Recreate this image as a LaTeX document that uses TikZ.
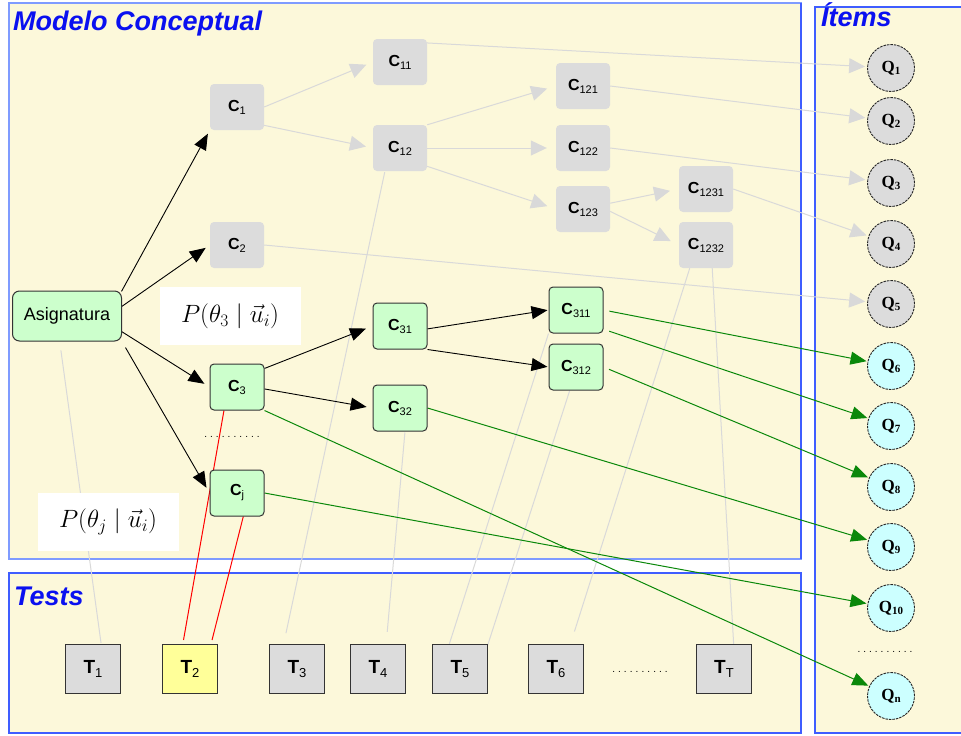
\documentclass[tikz,border=0pt]{standalone}
\usepackage{fix-cm}
\usepackage{fontspec}
\setmainfont{Liberation Sans}
\newfontfamily\qfont{Liberation Serif}
\usetikzlibrary{arrows.meta}

\definecolor{panelfill}{HTML}{FCF8DA}
\definecolor{panelblue}{HTML}{3F5DFF}
\definecolor{panellight}{HTML}{7F9BFF}
\definecolor{nodegray}{HTML}{DCDCDC}
\definecolor{nodegreen}{HTML}{CCFFCC}
\definecolor{qcyan}{HTML}{CCFFFF}
\definecolor{tyellow}{HTML}{FFFF99}
\definecolor{linkgray}{HTML}{D9D9D9}
\definecolor{linkgreen}{HTML}{0A880A}
\definecolor{titleblue}{HTML}{0A10F0}

% node labels: bold letter with a plain subscript
\newcommand{\clab}[1]{\textbf{C}\raisebox{-3pt}{\fontsize{11}{11}\selectfont #1}}
\newcommand{\tlab}[1]{\textbf{T}\raisebox{-4pt}{\fontsize{13}{13}\selectfont #1}}
\newcommand{\qlab}[1]{{\qfont\bfseries Q\raisebox{-2.5pt}{\fontsize{11}{11}\selectfont #1}}}
\newcommand{\dotrow}[1]{\hbox to #1{\xleaders\hbox to 5.4pt{\hss.\hss}\hfill}}

\pgfdeclarelayer{panels}
\pgfdeclarelayer{links}
\pgfsetlayers{panels,links,main}

\tikzset{
  cbase/.style={rectangle, minimum width=54pt, minimum height=46pt, inner sep=0pt,
                font=\fontsize{16}{16}\selectfont},
  cgray/.style={cbase, rounded corners=4pt, fill=nodegray},
  cgreen/.style={cbase, rounded corners=4pt, fill=nodegreen, draw=black!80, line width=1pt},
  tbox/.style={rectangle, minimum width=55pt, minimum height=49pt, inner sep=0pt,
               fill=nodegray, draw=black!80, line width=1.2pt, font=\fontsize{19}{19}\selectfont},
  qnode/.style={circle, minimum size=47pt, inner sep=0pt, fill=nodegray,
                draw=black!85, line width=0.9pt, dash pattern=on 2.5pt off 1pt,
                font=\fontsize{17}{17}\selectfont},
  qnew/.style={qnode, fill=qcyan},
  pbox/.style={rectangle, fill=white, minimum width=141pt, minimum height=58pt, inner sep=0pt,
               font=\fontsize{25}{30}\selectfont},
  title/.style={anchor=base west, inner sep=0pt, text=titleblue,
                font=\fontsize{27}{27}\selectfont\bfseries\itshape},
  dotsnode/.style={inner sep=0pt, font=\fontsize{10}{10}\selectfont},
  glink/.style={draw=linkgray, line width=1pt},
  garrow/.style={glink, -{Triangle[length=16pt,width=15pt]}},
  barrow/.style={draw=black, line width=0.9pt, -{Triangle[length=16pt,width=13pt]}},
  grarrow/.style={draw=linkgreen, line width=1pt, -{Triangle[length=16pt,width=13pt]}},
  rlink/.style={draw=red, line width=1pt},
}

\begin{document}
\begin{tikzpicture}[x=1pt,y=-1pt]
\useasboundingbox (0,0) rectangle (961,736);

% ---------- concept nodes ----------
\node[cgreen, minimum width=109pt, minimum height=50pt, rounded corners=7pt,
      font=\fontsize{18}{18}\selectfont] (asig) at (67,316) {Asignatura};

\node[cgray] (c1)    at (237,107) {\clab{1}};
\node[cgray] (c11)   at (400,62)  {\clab{11}};
\node[cgray] (c12)   at (400,148) {\clab{12}};
\node[cgray] (c2)    at (237,245) {\clab{2}};
\node[cgray] (c121)  at (583,86)  {\clab{121}};
\node[cgray] (c122)  at (583,148) {\clab{122}};
\node[cgray] (c123)  at (583,209) {\clab{123}};
\node[cgray] (c1231) at (706,189) {\clab{1231}};
\node[cgray] (c1232) at (706,245) {\clab{1232}};

\node[cgreen] (c3)   at (237,387) {\clab{3}};
\node[cgreen] (cj)   at (237,493) {\clab{j}};
\node[cgreen] (c31)  at (400,326) {\clab{31}};
\node[cgreen] (c32)  at (400,408) {\clab{32}};
\node[cgreen] (c311) at (576,310) {\clab{311}};
\node[cgreen] (c312) at (576,367) {\clab{312}};

\node[pbox] (p3) at (230,316) {$P(\theta_3\;|\;\vec{u}_i)$};
\node[pbox] (pj) at (108,522) {$P(\theta_j\;|\;\vec{u}_i)$};

\node[dotsnode] (dc) at (232,437) {\dotrow{59pt}};

% ---------- items ----------
\node[qnode] (q1)  at (891,68)  {\qlab{1}};
\node[qnode] (q2)  at (891,121) {\qlab{2}};
\node[qnode] (q3)  at (891,183) {\qlab{3}};
\node[qnode] (q4)  at (891,244) {\qlab{4}};
\node[qnode] (q5)  at (891,304) {\qlab{5}};
\node[qnew]  (q6)  at (891,366) {\qlab{6}};
\node[qnew]  (q7)  at (891,426) {\qlab{7}};
\node[qnew]  (q8)  at (891,487) {\qlab{8}};
\node[qnew]  (q9)  at (891,547) {\qlab{9}};
\node[qnew]  (q10) at (891,608) {\qlab{10}};
\node[qnew]  (qn)  at (891,696) {\qlab{n}};
\node[dotsnode] (dq) at (885,652) {\dotrow{58pt}};

% ---------- tests ----------
\node[tbox] (t1) at (93,669)  {\tlab{1}};
\node[tbox, fill=tyellow] (t2) at (190,669) {\tlab{2}};
\node[tbox] (t3) at (297,669) {\tlab{3}};
\node[tbox] (t4) at (378,669) {\tlab{4}};
\node[tbox] (t5) at (460,669) {\tlab{5}};
\node[tbox] (t6) at (556,669) {\tlab{6}};
\node[tbox] (tT) at (724,669) {\tlab{T}};
\node[dotsnode] (dt) at (640,672) {\dotrow{59pt}};

% ---------- panels ----------
\begin{pgfonlayer}{panels}
  \fill[white] (0,0) rectangle (961,736);
  \filldraw[fill=panelfill, draw=panellight, line width=1.5pt] (9,3) rectangle (801,559);
  \filldraw[fill=panelfill, draw=panelblue, line width=1.2pt] (9,573) rectangle (801,733);
  \filldraw[fill=panelfill, draw=panelblue, line width=1.2pt] (815,7) rectangle (970,733);
  \draw[panelblue, line width=1.2pt] (801,3) -- (801,559);
\end{pgfonlayer}
\node[title] (tmodel) at (13,30) {Modelo Conceptual};
\node[title] (titems) at (821,26) {Ítems};
\node[title] (ttests) at (14,605) {Tests};

% ---------- links ----------
\begin{pgfonlayer}{links}
  % tests to concepts
  \draw[glink, shorten <=9pt, shorten >=1pt] (asig.-106) -- (t1.72);
  \draw[glink, shorten <=1pt, shorten >=11pt] (c12.-123) -- (t3.118);
  \draw[glink, shorten <=1pt, shorten >=12pt] (c32.-78) -- (t4.72);
  \draw[glink] (c311.south west) -- (t5.113);
  \draw[glink, shorten >=-4pt] (c312.-105) -- (t5.north east);
  \draw[glink, shorten >=13pt] (c1232.-125) -- (t6.60);
  \draw[glink] (c1232.-75) -- (tT.69);
  \draw[rlink, shorten >=4pt] (c3.-119) -- (t2.106);
  \draw[rlink, shorten >=4pt] (cj.-75) -- (t2.50);

  % grey hierarchy
  \draw[garrow, shorten >=7pt] (c1.east) -- (c11.west);
  \draw[garrow, shorten >=7pt] (c1.-34) -- (c12.west);
  \draw[garrow, shorten >=9pt] (c12.north east) -- (c121.west);
  \draw[garrow, shorten >=9pt] (c12.east) -- (c122.west);
  \draw[garrow, shorten >=9pt] (c12.-34) -- (c123.west);
  \draw[garrow, shorten >=9pt] (c123.12) -- (c1231.west);
  \draw[garrow, shorten >=9pt] (c123.-5) -- (c1232.west);
  \draw[garrow, shorten >=2pt] (c11.35) -- (q1);
  \draw[garrow, shorten >=2pt] (c121.east) -- (q2);
  \draw[garrow, shorten >=2pt] (c122.east) -- (q3);
  \draw[garrow, shorten >=2pt] (c1231.east) -- (q4);
  \draw[garrow, shorten >=2pt] (c2.east) -- (q5);

  % black hierarchy
  \draw[barrow, shorten <=-1pt, shorten >=4pt] (asig.north east) -- (c1.south west);
  \draw[barrow, shorten >=5pt] (asig.10) -- (c2.west);
  \draw[barrow, shorten >=6pt] (asig.-16) -- (c3.west);
  \draw[barrow, shorten <=7pt, shorten >=6pt] (asig.south east) -- (cj.west);
  \draw[barrow, shorten >=7pt] (c3.34) -- (c31.west);
  \draw[barrow, shorten >=6pt] (c3.-4) -- (c32.west);
  \draw[barrow, shorten >=1pt] (c31.-6) -- (c311.west);
  \draw[barrow, shorten >=1pt] (c31.south east) -- (c312.west);

  % green links to items
  \draw[grarrow, shorten <=6pt, shorten >=1pt] (c311.east) -- (q6);
  \draw[grarrow, shorten <=6pt, shorten >=1pt] (c311.-35) -- (q7);
  \draw[grarrow, shorten <=6pt, shorten >=1pt] (c312.east) -- (q8);
  \draw[grarrow, shorten >=1pt] (c32.east) -- (q9);
  \draw[grarrow, shorten >=1pt] (cj.east) -- (q10);
  \draw[grarrow, shorten >=1pt] (c3.south east) -- (qn);
\end{pgfonlayer}
\end{tikzpicture}
\end{document}
